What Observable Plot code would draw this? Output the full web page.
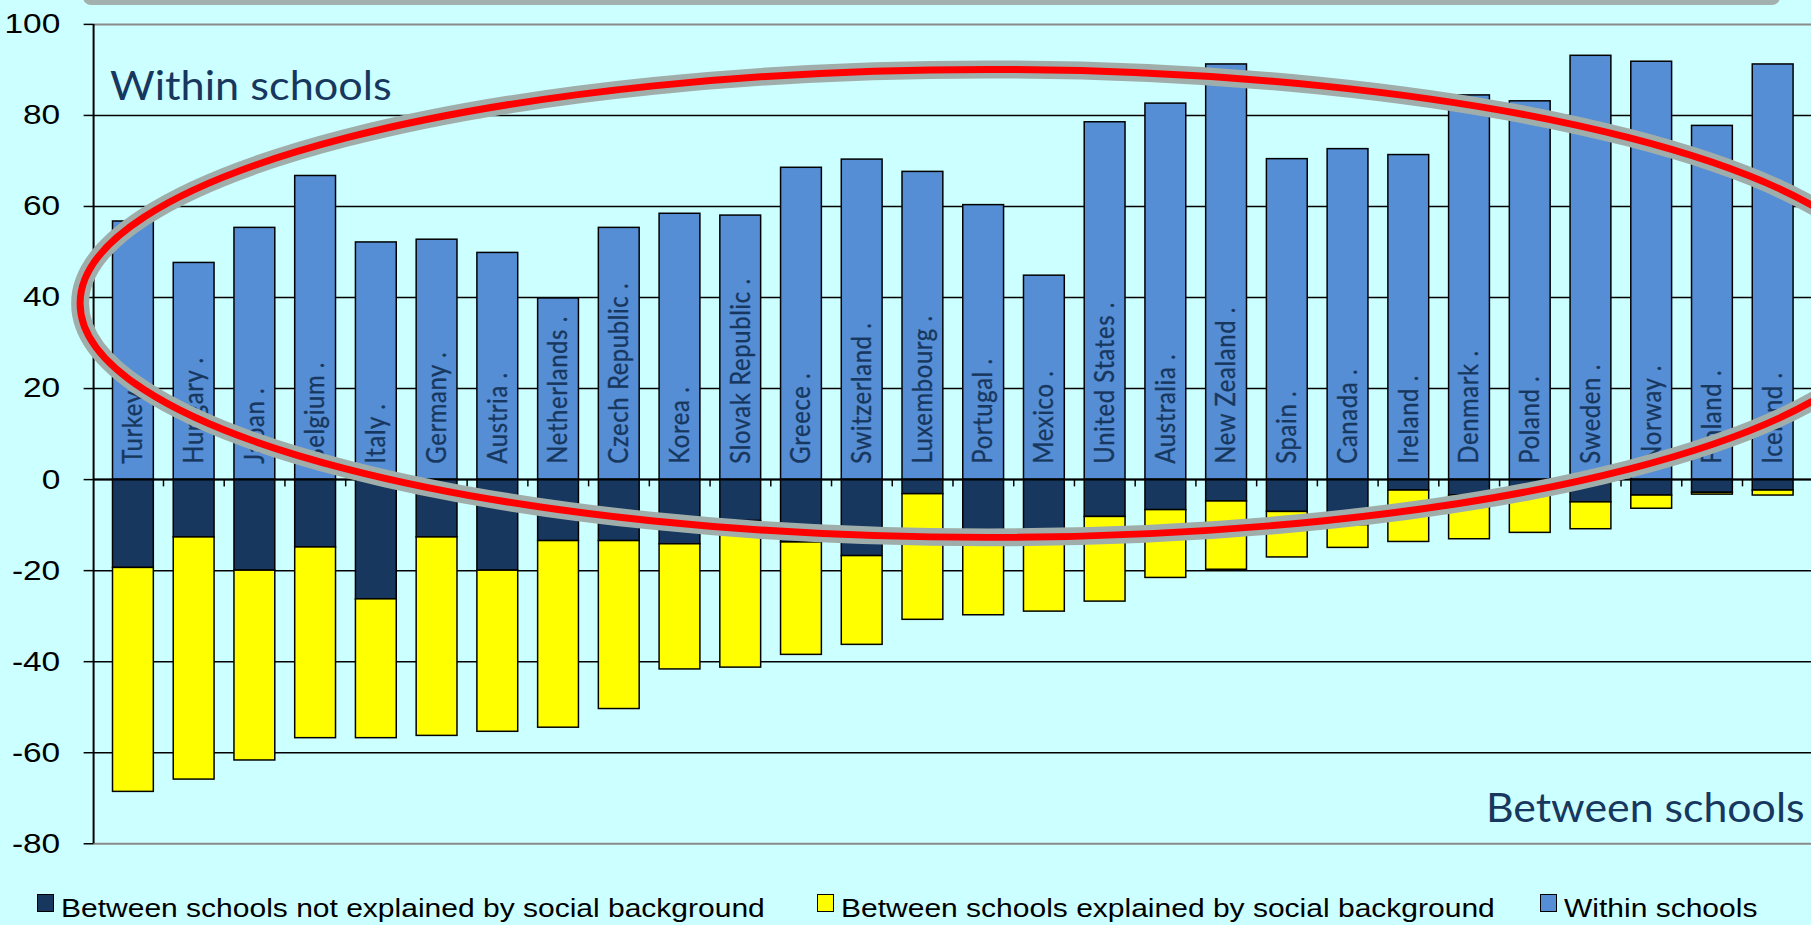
<!DOCTYPE html>
<html>
<head>
<meta charset="utf-8">
<script src="https://cdn.jsdelivr.net/npm/d3@7"></script>
<script src="https://cdn.jsdelivr.net/npm/@observablehq/plot@0.6"></script>
<style>
  html, body { margin: 0; padding: 0; background: #ccffff; overflow: hidden; }
  #wrap { position: relative; width: 1811px; height: 925px; overflow: hidden; background: #ccffff; }
  #titlebar { position: absolute; left: 83px; top: -20px; width: 1697px; height: 25px;
              background: #a2b1ad; border-radius: 8px; }
  #chart { position: absolute; left: 0; top: 0; }
  .lg-box { position: absolute; top: 894px; width: 17px; height: 18px; box-sizing: border-box;
            border: 1.5px solid #000; }
  .lg-text { position: absolute; top: 896px; font: 25px "Liberation Sans", Arial, sans-serif;
             line-height: 25px; color: #000; white-space: nowrap;
             transform: scaleX(1.2); transform-origin: left center; }
</style>
</head>
<body>
<div id="wrap">
  <div id="titlebar"></div>
  <div id="chart"></div>
  <div id="legend"></div>
</div>
<script>
// Countries, ordered by the size of the between-school share
const countries = [
  "Turkey .", "Hungary .", "Japan .", "Belgium .", "Italy .", "Germany .", "Austria .",
  "Netherlands .", "Czech Republic .", "Korea .", "Slovak Republic .", "Greece .",
  "Switzerland .", "Luxembourg .", "Portugal .", "Mexico .", "United States .",
  "Australia .", "New Zealand .", "Spain .", "Canada .", "Ireland .", "Denmark .",
  "Poland .", "Sweden .", "Norway .", "Finland .", "Iceland ."
];

// Variance within schools (drawn upward)
const withinSchools = [
  56.7, 47.6, 55.3, 66.7, 52.1, 52.7, 49.8, 39.8, 55.3, 58.4, 58.0, 68.5, 70.3, 67.6,
  60.3, 44.8, 78.5, 82.6, 91.2, 70.4, 72.6, 71.3, 84.4, 83.1, 93.1, 91.8, 77.7, 91.2
];

// Variance between schools not explained by social background (drawn downward)
const betweenNotExplained = [
  -19.4, -12.7, -20.0, -14.9, -26.3, -12.7, -20.0, -13.5, -13.5, -14.2, -9.1, -13.8,
  -16.8, -3.2, -13.0, -12.0, -8.2, -6.7, -4.8, -7.1, -10.0, -2.4, -3.5, -3.5, -5.0,
  -3.5, -2.9, -2.4
];

// Variance between schools explained by social background (stacked below)
const betweenExplained = [
  -49.2, -53.2, -41.7, -41.9, -30.5, -43.6, -35.4, -41.0, -36.9, -27.5, -32.2, -24.7,
  -19.5, -27.6, -16.8, -17.0, -18.6, -14.9, -15.0, -10.0, -5.0, -11.3, -9.6, -8.2,
  -5.9, -2.9, -0.4, -1.1
];

const yTicks = [100, 80, 60, 40, 20, 0, -20, -40, -60, -80];

const seriesNames = [
  "Between schools not explained by social background",
  "Between schools explained by social background",
  "Within schools"
];
const seriesColors = ["#17375e", "#ffff00", "#558ed5"];

const notes = { within: "Within schools", between: "Between schools" };

// Highlight ring around the within-school bars:
// centre as a band position and a value, half-extents in bands and in value units
const ring = { centerBand: 14.58, centerValue: 38.6, halfBands: 14.8, halfValue: 51.4 };

// Long table for the stacked bars
const rows = [];
countries.forEach((c, i) => {
  rows.push({ country: c, series: seriesNames[0], value: betweenNotExplained[i] });
  rows.push({ country: c, series: seriesNames[1], value: betweenExplained[i] });
  rows.push({ country: c, series: seriesNames[2], value: withinSchools[i] });
});

const W = 1819, H = 870, ML = 94, MT = 24, MB = 23;
const step = (W - ML) / countries.length;
const navy = "#17375e";

const plot = Plot.plot({
  width: W,
  height: H,
  marginLeft: ML,
  marginRight: 0,
  marginTop: MT,
  marginBottom: MB,
  style: { background: "transparent", color: "#000", overflow: "visible" },
  x: { type: "band", domain: countries, paddingInner: 0.33, paddingOuter: 0.165, axis: null },
  y: { domain: [-80, 100], axis: null },
  color: { domain: seriesNames, range: seriesColors },
  marks: [
    Plot.ruleY(yTicks.filter(d => d !== 100 && d !== -80), { stroke: "#000", strokeWidth: 1.5 }),
    Plot.ruleY([100, -80], { stroke: "#8a8a8a", strokeWidth: 2 }),
    Plot.barY(rows, { x: "country", y: "value", fill: "series", stroke: "#000", strokeWidth: 1.5 }),
    Plot.ruleY([0], { stroke: "#000", strokeWidth: 2 }),
    Plot.ruleX(countries.slice(1), { x: d => d, y1: 0, y2: -1.6, dx: -step / 2, stroke: "#000", strokeWidth: 1.5 }),
    Plot.axisY(yTicks, {
      label: null,
      tickSize: 10, tickPadding: 24, strokeWidth: 1.5,
      tickFormat: d => String(d),
      fontSize: 28, fontFamily: "Liberation Sans, Arial, sans-serif"
    }),
    Plot.text(countries, {
      x: d => d, y: 0, text: d => d, rotate: -90, textAnchor: "start", dy: -16,
      fill: navy, stroke: navy, strokeWidth: 0.3, fontSize: 24, fontFamily: "Lato, sans-serif"
    }),
    Plot.text([notes.within], {
      text: d => d, frameAnchor: "top-left", dx: 16, dy: 76, textAnchor: "start", lineAnchor: "bottom",
      fill: navy, fontSize: 40, fontFamily: "Lato, sans-serif"
    }),
    Plot.text([notes.between], {
      text: d => d, frameAnchor: "bottom-right", dx: -7, dy: -22, textAnchor: "end", lineAnchor: "bottom",
      fill: navy, fontSize: 40, fontFamily: "Lato, sans-serif"
    })
  ]
});

document.getElementById("chart").appendChild(plot);
const svg = d3.select(plot);
const textsWith = set => svg.selectAll("text").filter(function () { return set.has(this.textContent); });

// Wide tick numerals
textsWith(new Set(yTicks.map(String)))
  .attr("transform", function () { return (this.getAttribute("transform") || "") + " scale(1.2,1)"; });

// Country labels: letter spacing and slightly wider glyphs
textsWith(new Set(countries))
  .style("letter-spacing", "0.6px")
  .attr("transform", function () { return (this.getAttribute("transform") || "") + " scale(1,1.15)"; });

// Annotation lengths
textsWith(new Set([notes.within])).attr("textLength", 283).attr("lengthAdjust", "spacingAndGlyphs");
textsWith(new Set([notes.between])).attr("textLength", 320).attr("lengthAdjust", "spacingAndGlyphs");

const xs = plot.scale("x");
const ys = plot.scale("y");

// Value axis line
svg.append("line")
  .attr("x1", ML).attr("x2", ML)
  .attr("y1", ys.apply(100)).attr("y2", ys.apply(-80))
  .attr("stroke", "#000").attr("stroke-width", 2);

// Highlight ring (grey halo under a red line)
const cx = xs.range[0] + ring.centerBand * step;
const cy = ys.apply(ring.centerValue);
const rx = ring.halfBands * step;
const ry = ys.apply(0) - ys.apply(ring.halfValue);
const ringG = svg.append("g").attr("fill", "none");
ringG.append("ellipse").attr("cx", cx).attr("cy", cy).attr("rx", rx).attr("ry", ry)
  .attr("stroke", "#a0aeab").attr("stroke-width", 18);
ringG.append("ellipse").attr("cx", cx).attr("cy", cy).attr("rx", rx).attr("ry", ry)
  .attr("stroke", "#ff0000").attr("stroke-width", 7);

// Legend below the chart
const legendLefts = [37, 817, 1540];
const legend = document.getElementById("legend");
seriesNames.forEach((name, i) => {
  const box = document.createElement("div");
  box.className = "lg-box";
  box.style.left = legendLefts[i] + "px";
  box.style.background = seriesColors[i];
  legend.appendChild(box);
  const t = document.createElement("div");
  t.className = "lg-text";
  t.style.left = (legendLefts[i] + 24) + "px";
  t.textContent = name;
  legend.appendChild(t);
});
</script>
</body>
</html>
